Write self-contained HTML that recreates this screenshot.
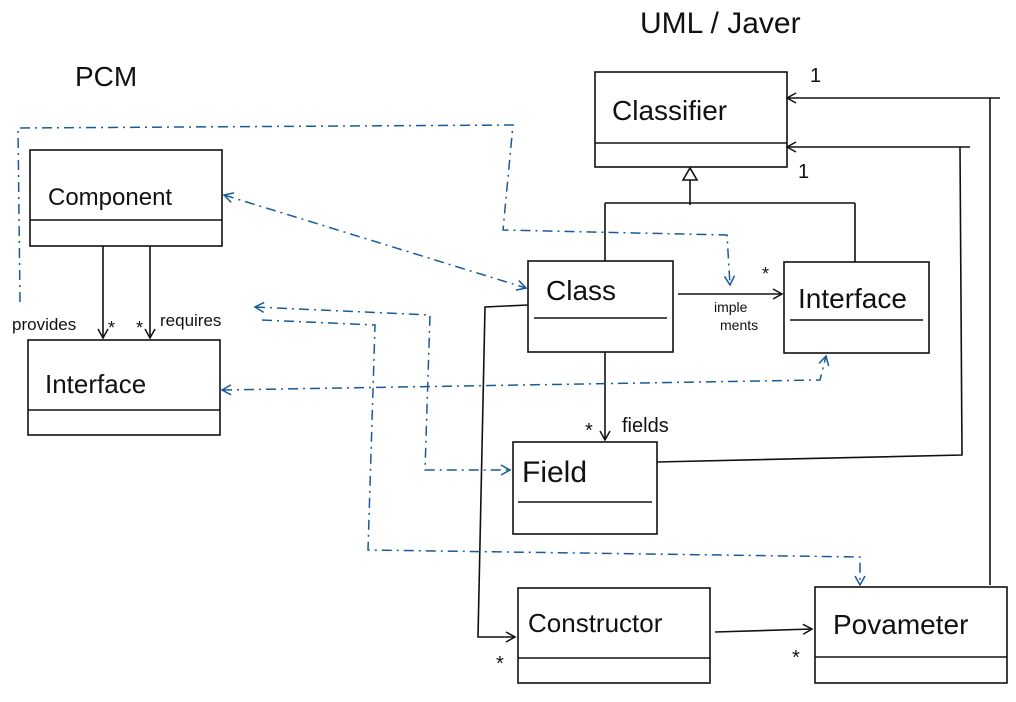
<!DOCTYPE html>
<html><head><meta charset="utf-8"><style>
html,body{margin:0;padding:0;background:#fff;}
svg text{font-family:"Liberation Sans",sans-serif;fill:#111;}
</style></head><body>
<svg width="1016" height="697" viewBox="0 0 1016 697" xmlns="http://www.w3.org/2000/svg">
<defs>
<marker id="a" markerWidth="12" markerHeight="12" refX="10" refY="6" orient="auto" markerUnits="userSpaceOnUse"><path d="M1,1 L10,6 L1,11" fill="none" stroke="#111" stroke-width="1.5"/></marker>
<marker id="b" markerWidth="12" markerHeight="12" refX="10" refY="6" orient="auto" markerUnits="userSpaceOnUse"><path d="M1,1 L10,6 L1,11" fill="none" stroke="#1a5a96" stroke-width="1.5"/></marker>
<marker id="bs" markerWidth="12" markerHeight="12" refX="2" refY="6" orient="auto" markerUnits="userSpaceOnUse"><path d="M11,1 L2,6 L11,11" fill="none" stroke="#1a5a96" stroke-width="1.5"/></marker>
</defs>
<g fill="none" stroke="#111" stroke-width="1.6">
<rect x="30" y="150" width="192" height="96"/><line x1="30" y1="220" x2="222" y2="220"/>
<rect x="28" y="340" width="192" height="95"/><line x1="28" y1="410" x2="220" y2="410"/>
<rect x="595" y="72" width="192" height="95"/><line x1="595" y1="143" x2="787" y2="143"/>
<rect x="528" y="261" width="145" height="91"/><line x1="534" y1="318" x2="667" y2="318"/>
<rect x="784" y="262" width="145" height="91"/><line x1="790" y1="320" x2="923" y2="320"/>
<rect x="513" y="442" width="144" height="92"/><line x1="518" y1="502" x2="652" y2="502"/>
<rect x="518" y="588" width="192" height="95"/><line x1="518" y1="658" x2="710" y2="658"/>
<rect x="815" y="587" width="192" height="96"/><line x1="815" y1="657" x2="1007" y2="657"/>
<line x1="103" y1="246" x2="103" y2="338" marker-end="url(#a)"/>
<line x1="150" y1="246" x2="150" y2="338" marker-end="url(#a)"/>
<line x1="678" y1="294" x2="782" y2="294" marker-end="url(#a)"/>
<line x1="605" y1="352" x2="605" y2="440" marker-end="url(#a)"/>
<path d="M683,180 L690,168 L697,180 Z"/>
<path d="M690,180 L690,205 M605,203 L855,203 M605,203 L605,261 M855,203 L855,262"/>
<line x1="1000" y1="98" x2="787" y2="98" marker-end="url(#a)"/>
<line x1="970" y1="147" x2="787" y2="147" marker-end="url(#a)"/>
<path d="M960,147 L962,455 L657,462"/>
<path d="M990,98 L990,585"/>
<path d="M528,305 L485,307 L478,637 L515,637" marker-end="url(#a)"/>
<line x1="715" y1="632" x2="812" y2="629" marker-end="url(#a)"/>
</g>
<g fill="none" stroke="#1a5a96" stroke-width="1.5" stroke-dasharray="10,5,2,5">
<path d="M20,302 L18,128 L513,125 L503,230 L727,235 L730,285" marker-end="url(#b)"/>
<line x1="224" y1="195" x2="526" y2="288" marker-start="url(#bs)" marker-end="url(#b)"/>
<path d="M255,307 L430,315 L425,470 L510,470" marker-start="url(#bs)" marker-end="url(#b)"/>
<path d="M262,320 L375,325 L368,550 L860,557 L860,585" marker-end="url(#b)"/>
<path d="M222,390 L820,380 L826,356" marker-start="url(#bs)" marker-end="url(#b)"/>
</g>
<text x="640" y="33" font-size="30">UML / Javer</text>
<text x="75" y="86" font-size="28">PCM</text>
<text x="48" y="205" font-size="24">Component</text>
<text x="45" y="393" font-size="26">Interface</text>
<text x="612" y="120" font-size="28">Classifier</text>
<text x="546" y="300" font-size="28">Class</text>
<text x="798" y="308" font-size="28">Interface</text>
<text x="522" y="482" font-size="30">Field</text>
<text x="528" y="632" font-size="26">Constructor</text>
<text x="833" y="634" font-size="28">Povameter</text>
<text x="12" y="330" font-size="17">provides</text>
<text x="160" y="326" font-size="17">requires</text>
<text x="108" y="334" font-size="18">*</text>
<text x="136" y="334" font-size="18">*</text>
<text x="762" y="280" font-size="18">*</text>
<text x="714" y="312" font-size="14">imple</text>
<text x="720" y="330" font-size="14">ments</text>
<text x="585" y="437" font-size="20">*</text>
<text x="622" y="432" font-size="20">fields</text>
<text x="810" y="82" font-size="20">1</text>
<text x="798" y="178" font-size="20">1</text>
<text x="496" y="670" font-size="20">*</text>
<text x="792" y="664" font-size="20">*</text>
</svg>
</body></html>
